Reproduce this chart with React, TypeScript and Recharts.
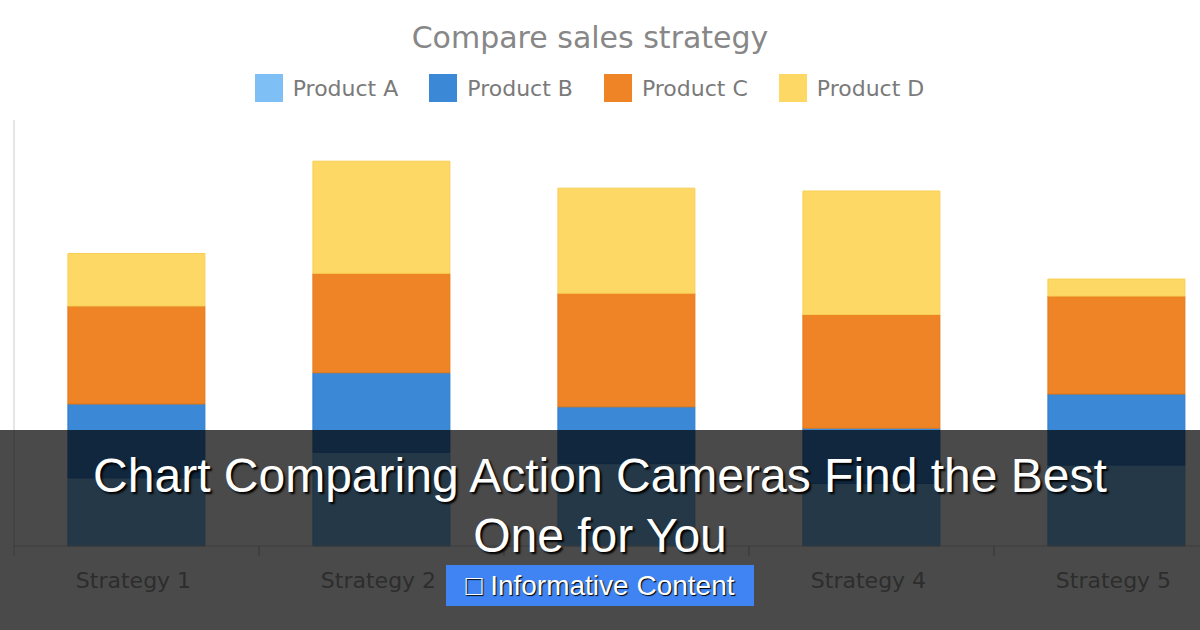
import React from 'react';
import { BarChart, Bar, XAxis, YAxis, Legend } from 'recharts';

const strategies = ['Strategy 1', 'Strategy 2', 'Strategy 3', 'Strategy 4', 'Strategy 5'];
const productA = [4.8, 6.6, 5.8, 4.4, 5.7];
const productB = [5.2, 5.6, 4.0, 3.9, 5.0];
const productC = [6.9, 7.0, 8.0, 8.0, 6.9];
const productD = [3.7, 7.9, 7.4, 8.7, 1.2];
const yTicks = [0, 10, 20, 30];

const series = [
  { key: 'a', name: 'Product A', fill: '#7ec0f5', stroke: '#6fb4ec' },
  { key: 'b', name: 'Product B', fill: '#3a88d6', stroke: '#2f7ccb' },
  { key: 'c', name: 'Product C', fill: '#ee8425', stroke: '#e57817' },
  { key: 'd', name: 'Product D', fill: '#fdd865', stroke: '#f8cf55' },
];

const data = strategies.map((s, i) => ({
  name: s,
  a: productA[i],
  b: productB[i],
  c: productC[i],
  d: productD[i],
}));

const CHART_W = 1239;
const Y_AXIS_W = 14;
const BAND = (CHART_W - Y_AXIS_W) / strategies.length;

const XTick = (props: any) => {
  const { x, y, payload } = props;
  return (
    <g>
      <line x1={x - BAND / 2} y1={y} x2={x - BAND / 2} y2={y + 10} stroke="#cccccc" />
      <line x1={x + BAND / 2} y1={y} x2={x + BAND / 2} y2={y + 10} stroke="#cccccc" />
      <text x={x - 3} y={y + 42} textAnchor="middle" fill="#9a9a9a" fontSize={22} fontFamily="DejaVu Sans">
        {payload.value}
      </text>
    </g>
  );
};

const LegendContent = () => (
  <div style={{ display: 'flex', justifyContent: 'center', fontFamily: 'DejaVu Sans', fontSize: 22, color: '#7a7a7a' }}>
    {series.map((s) => (
      <div key={s.key} style={{ display: 'flex', alignItems: 'center', marginRight: 31 }}>
        <div style={{ width: 28, height: 28, background: s.fill, marginRight: 10 }} />
        <span>{s.name}</span>
      </div>
    ))}
  </div>
);

export default function App() {
  return (
    <div style={{ position: 'absolute', left: 0, top: 0, width: 1200, height: 630, overflow: 'hidden', background: '#fff' }}>
      <div style={{ position: 'absolute', top: 20, left: 0, width: 1180, textAlign: 'center', fontFamily: 'DejaVu Sans', fontSize: 30, color: '#878787' }}>
        Compare sales strategy
      </div>
      <BarChart
        width={CHART_W}
        height={630}
        data={data}
        margin={{ top: 120, right: 0, bottom: 44, left: 0 }}
        barCategoryGap="22%"
      >
        <XAxis
          dataKey="name"
          height={40}
          axisLine={{ stroke: '#cccccc' }}
          tickLine={false}
          tickSize={0}
          tickMargin={0}
          tick={<XTick />}
          interval={0}
        />
        <YAxis
          width={Y_AXIS_W}
          domain={[0, 30]}
          ticks={yTicks}
          tick={false}
          tickSize={9}
          axisLine={{ stroke: '#cccccc' }}
          tickLine={{ stroke: '#cccccc' }}
        />
        <Legend
          verticalAlign="middle"
          align="center"
          layout="horizontal"
          content={<LegendContent />}
          wrapperStyle={{ top: 74, left: 0, width: 1210 }}
        />
        {series.map((s) => (
          <Bar
            key={s.key}
            dataKey={s.key}
            name={s.name}
            stackId="s"
            fill={s.fill}
            stroke={s.stroke}
            strokeWidth={1}
            isAnimationActive={false}
          />
        ))}
      </BarChart>
      <div style={{ position: 'absolute', top: 430, left: 0, width: 1200, height: 200, background: 'rgba(0,0,0,0.71)' }} />
      <div
        style={{
          position: 'absolute',
          top: 446,
          left: 0,
          width: 1200,
          textAlign: 'center',
          fontFamily: 'Liberation Sans, Arial, sans-serif',
          fontSize: 48,
          lineHeight: '60px',
          color: '#fff',
          textShadow: '2px 2px 2px #000',
        }}
      >
        Chart Comparing Action Cameras Find the Best
        <br />
        One for You
      </div>
      <div
        style={{
          position: 'absolute',
          top: 565,
          left: 446,
          width: 308,
          height: 41,
          background: '#3f84f2',
          color: '#fff',
          fontFamily: 'Liberation Sans, Arial, sans-serif',
          fontSize: 28,
          lineHeight: '41px',
          textAlign: 'center',
          textShadow: '1px 1px 1px #000',
        }}
      >
        □ Informative Content
      </div>
    </div>
  );
}
